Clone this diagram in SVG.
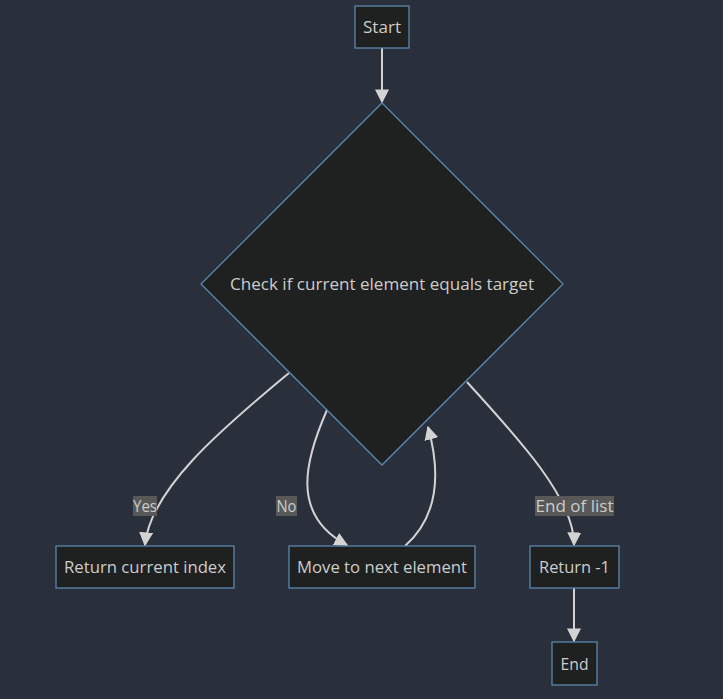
<svg xmlns="http://www.w3.org/2000/svg" width="723" height="699" viewBox="0 0 723 699">
<style>
.node rect, .node polygon { fill: #1f2020; stroke: #5b86b0; stroke-width: 1.3; }
.node text, .lbl text { fill: #cccccc; font-family: "Open Sans", "Liberation Sans", Arial, sans-serif; font-size: 16px; text-anchor: middle; dominant-baseline: central; }
.edge { fill: none; stroke: #d3d3d3; stroke-width: 2; marker-end: url(#arr); }
.lbl rect { fill: #585858; }
</style>
<defs>
<marker id="arr" viewBox="0 0 10 10" refX="9" refY="5" markerWidth="7" markerHeight="7" markerUnits="strokeWidth" orient="auto">
<path d="M0,0 L10,5 L0,10 z" fill="#d3d3d3"/>
</marker>
</defs>
<rect width="723" height="699" fill="#2a2f3c"/>
<g id="connectors">
<path class="edge" d="M382,48 L382,102"/>
<path class="edge" d="M289,373 C220,430 150,490 145,545"/>
<path class="edge" d="M327,410 C305,460 290,515 347,545"/>
<path class="edge" d="M405,546 C440,515 440,470 428,427"/>
<path class="edge" d="M467,382 C520,440 575,500 574,545"/>
<path class="edge" d="M574,588 L574,641"/>
</g>
<g id="labels">
<g class="lbl"><rect x="133" y="496" width="24" height="20"/><text x="145" y="506" textLength="24" lengthAdjust="spacingAndGlyphs">Yes</text></g>
<g class="lbl"><rect x="276" y="496" width="21" height="20"/><text x="286.5" y="506" textLength="20" lengthAdjust="spacingAndGlyphs">No</text></g>
<g class="lbl"><rect x="535" y="496" width="79" height="20"/><text x="574.5" y="506" textLength="78" lengthAdjust="spacingAndGlyphs">End of list</text></g>
</g>
<g id="start" class="node"><rect x="355" y="6" width="54" height="42"/><text x="382" y="27" textLength="38" lengthAdjust="spacingAndGlyphs">Start</text></g>
<g id="check" class="node"><polygon points="382,103 563,284 382,465 201,284"/><text x="382" y="284" textLength="304" lengthAdjust="spacingAndGlyphs">Check if current element equals target</text></g>
<g id="found" class="node"><rect x="56" y="546" width="178" height="42"/><text x="145" y="567" textLength="162" lengthAdjust="spacingAndGlyphs">Return current index</text></g>
<g id="next" class="node"><rect x="289" y="546" width="186" height="42"/><text x="382" y="567" textLength="170" lengthAdjust="spacingAndGlyphs">Move to next element</text></g>
<g id="notfound" class="node"><rect x="530" y="546" width="89" height="42"/><text x="574.5" y="567" textLength="71" lengthAdjust="spacingAndGlyphs">Return -1</text></g>
<g id="end" class="node"><rect x="552" y="642" width="45" height="43"/><text x="574.5" y="663.5" textLength="28" lengthAdjust="spacingAndGlyphs">End</text></g>
</svg>
